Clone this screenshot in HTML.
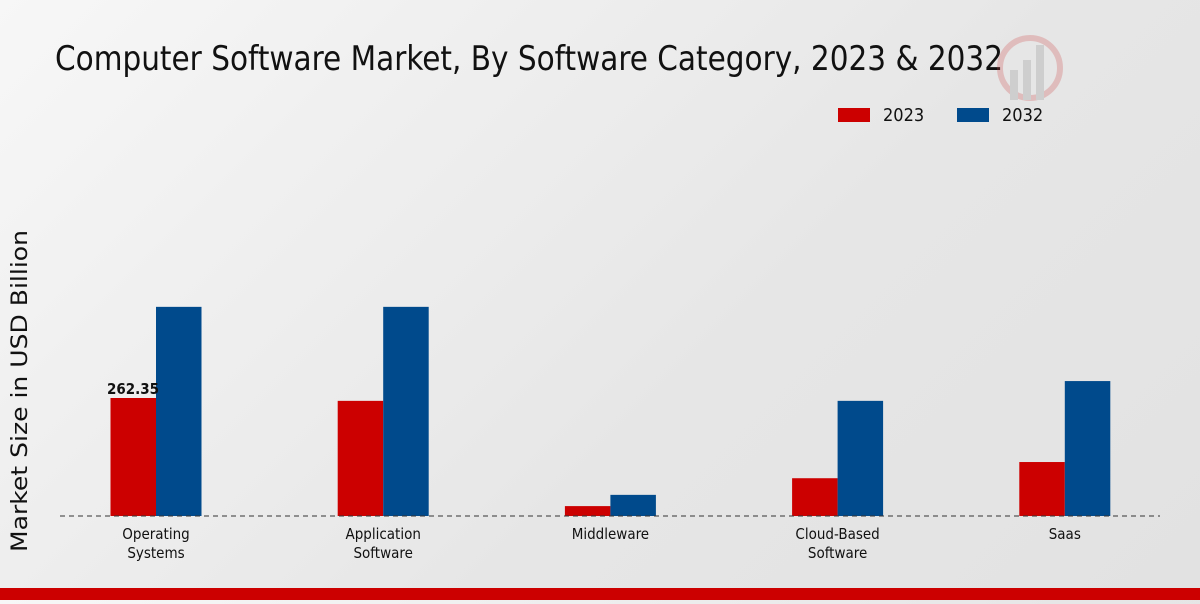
<!DOCTYPE html>
<html><head><meta charset="utf-8"><style>
body{margin:0;width:1200px;height:600px;overflow:hidden;background:linear-gradient(135deg,#f7f7f7 0%,#e6e6e6 60%,#e2e2e2 100%);font-family:"Liberation Sans Narrow","DejaVu Sans Condensed","Liberation Sans",sans-serif;}
</style></head><body>
<svg width="1200" height="600" xmlns="http://www.w3.org/2000/svg">
<text x="55" y="70" font-size="34" textLength="948" lengthAdjust="spacingAndGlyphs" fill="#111" font-family="Liberation Sans Narrow, DejaVu Sans Condensed, sans-serif">Computer Software Market, By Software Category, 2023 &amp; 2032</text>
<g opacity="0.25">
<circle cx="1030" cy="68" r="30" fill="none" stroke="#c44" stroke-width="6"/>
<rect x="1010" y="70" width="8" height="30" fill="#888"/><rect x="1023" y="60" width="8" height="40" fill="#888"/><rect x="1036" y="45" width="8" height="55" fill="#888"/>
</g>
<g>
<rect x="838" y="108" width="32" height="14" fill="#cc0000"/>
<text x="883" y="121" font-size="18" fill="#111">2023</text>
<rect x="957" y="108" width="32" height="14" fill="#004a8c"/>
<text x="1002" y="121" font-size="18" fill="#111">2032</text>
</g>
<text transform="translate(27,391) rotate(-90)" text-anchor="middle" font-size="22" textLength="322" lengthAdjust="spacingAndGlyphs" fill="#111" font-family="DejaVu Sans, sans-serif">Market Size in USD Billion</text>
<g id="bars"></g>
<line x1="60" y1="516" x2="1160" y2="516" stroke="#333" stroke-dasharray="5,4" stroke-width="1"/>
<g id="labels"></g>
<rect x="0" y="588" width="1200" height="12" fill="#cc0000"/>
</svg>
<script>
const categories=[["Operating","Systems"],["Application","Software"],["Middleware"],["Cloud-Based","Software"],["Saas"]];
const values2023=[262.35,256,22,84,120];
const values2032=[465,465,47,256,300];
const ns="http://www.w3.org/2000/svg";
const baseY=516,scale=118/262.35;
function y(v){return baseY-v*scale;}
function cx(i){return 156+i*227.2;}
const bars=document.getElementById('bars'),labels=document.getElementById('labels');
categories.forEach((c,i)=>{
  [[values2023,"#cc0000",-45.5,"2023"],[values2032,"#004a8c",0,"2032"]].forEach(([arr,col,off,s])=>{
    const r=document.createElementNS(ns,'rect');
    r.setAttribute('x',cx(i)+off);r.setAttribute('y',y(arr[i]));
    r.setAttribute('width',45.5);r.setAttribute('height',baseY-y(arr[i]));r.setAttribute('fill',col);
    
    
    bars.appendChild(r);
  });
  c.forEach((line,k)=>{
    const t=document.createElementNS(ns,'text');
    t.setAttribute('x',cx(i));t.setAttribute('y',539+k*19);t.setAttribute('text-anchor','middle');
    t.setAttribute('font-size','15');t.setAttribute('fill','#111');t.textContent=line;
    
    
    labels.appendChild(t);
  });
});
const v=document.createElementNS(ns,'text');
v.setAttribute('x',cx(0)-23);v.setAttribute('y',y(values2023[0])-4);v.setAttribute('text-anchor','middle');
v.setAttribute('font-size','15');v.setAttribute('font-weight','bold');v.setAttribute('fill','#111');
v.setAttribute('font-family','DejaVu Sans Condensed, sans-serif');
v.textContent=values2023[0].toFixed(2);


labels.appendChild(v);
</script>
</body></html>
